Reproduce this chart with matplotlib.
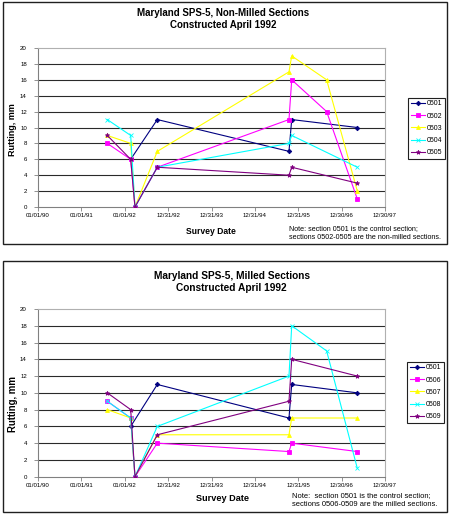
import numpy as np
import matplotlib
matplotlib.use("Agg")
import matplotlib.pyplot as plt
from matplotlib.patches import Rectangle

plt.rcParams['font.family'] = ['Liberation Sans', 'DejaVu Sans']

# ---------------- data ----------------
x_tick_dates = ['1990-01-01', '1991-01-01', '1992-01-01', '1992-12-31', '1993-12-31',
                '1994-12-31', '1995-12-31', '1996-12-30', '1997-12-30']
x_tick_labels = ['01/01/90', '01/01/91', '01/01/92', '12/31/92', '12/31/93',
                 '12/31/94', '12/31/95', '12/30/96', '12/30/97']
y_ticks = [0, 2, 4, 6, 8, 10, 12, 14, 16, 18, 20]

dates_control = ['1992-02-20', '1992-10-01', '1995-10-14', '1995-11-06', '1997-05-11']
dates_std = ['1991-08-07', '1992-02-20', '1992-03-27', '1992-10-01',
             '1995-10-14', '1995-11-06', '1997-05-11']
dates_ext = ['1991-08-07', '1992-02-20', '1992-03-27', '1992-10-01',
             '1995-10-14', '1995-11-06', '1996-08-26', '1997-05-11']

# Non-milled panel
nm_names = ['0501', '0502', '0503', '0504', '0505']
nm_dates = [dates_control, dates_ext, dates_ext, dates_std, dates_std]
rut_0501 = [6, 11, 7, 11, 10]
rut_0502 = [8, 6, 0, 5, 11, 16, 12, 1]
rut_0503 = [9, 8, 0, 7, 17, 19, 16, 2]
rut_0504 = [11, 9, 0, 5, 8, 9, 5]
rut_0505 = [9, 6, 0, 5, 4, 5, 3]
nm_values = [rut_0501, rut_0502, rut_0503, rut_0504, rut_0505]

# Milled panel
m_names = ['0501', '0506', '0507', '0508', '0509']
m_dates = [dates_control, dates_std, dates_std, dates_ext, dates_std]
rut_0506 = [9, 7, 0, 4, 3, 4, 3]
rut_0507 = [8, 7, 0, 5, 5, 7, 7]
rut_0508 = [9, 7, 0, 6, 12, 18, 15, 1]
rut_0509 = [10, 8, 0, 5, 9, 14, 12]
m_values = [rut_0501, rut_0506, rut_0507, rut_0508, rut_0509]

colors = ['#000080', '#FF00FF', '#FFFF00', '#00FFFF', '#800080']
markers = ['D', 's', '^', 'x', '*']
msizes = [2.3, 2.3, 2.8, 2.8, 3.2]

titles = [("Maryland SPS-5, Non-Milled Sections", "Constructed April 1992"),
          ("Maryland SPS-5, Milled Sections", "Constructed April 1992")]
notes = [("Note: section 0501 is the control section;",
          "sections 0502-0505 are the non-milled sections."),
         ("Note:  section 0501 is the control section;",
          "sections 0506-0509 are the milled sections.")]

# ---------------- layout (pixels) ----------------
W, H = 450, 515
fig = plt.figure(figsize=(W / 100, H / 100), dpi=100)
fig.patch.set_facecolor('white')


def fx(px):
    return px / W


def fy(py):
    return 1 - py / H


panels = [
    dict(box=(3, 2, 447, 244), ax=(38, 48, 385, 207), t1=13.3, t2=25.0, tx=223, tfs=7.0,
         ylab=(12.5, 130), yfs=6.5, xlab=(211, 232), xfs=6.2, note=(289, 228.3, 237.7), nfs=5.1,
         leg=(408, 97.7)),
    dict(box=(3, 261, 447, 512), ax=(38, 309, 385, 476.7), t1=275.7, t2=288.3, tx=231.5, tfs=7.3,
         ylab=(13.5, 404), yfs=6.9, xlab=(223, 498.5), xfs=6.6, note=(291.5, 495.5, 504.5), nfs=5.4,
         leg=(407, 361.7)),
]

all_names = [nm_names, m_names]
all_dates = [nm_dates, m_dates]
all_values = [nm_values, m_values]

xt = np.array(x_tick_dates, dtype='datetime64[D]')

for p, names, dsets, vsets, (l1, l2), (n1, n2) in zip(panels, all_names, all_dates, all_values, titles, notes):
    bx0, by0, bx1, by1 = p['box']
    fig.patches.append(Rectangle((fx(bx0), fy(by1)), fx(bx1 - bx0), (by1 - by0) / H,
                                 transform=fig.transFigure, fill=False,
                                 edgecolor='#202020', linewidth=1.0))
    ax0, ay0, ax1, ay1 = p['ax']
    ax = fig.add_axes([fx(ax0), fy(ay1), fx(ax1 - ax0), (ay1 - ay0) / H])
    ax.set_facecolor('white')
    for yv in y_ticks[1:-1]:
        ax.axhline(yv, color='#2a2a2a', linewidth=0.8, zorder=1)
    handles = []
    for name, d, v, c, mk, ms in zip(names, dsets, vsets, colors, markers, msizes):
        h, = ax.plot(np.array(d, dtype='datetime64[D]'), v, color=c, marker=mk,
                     markersize=ms, markeredgewidth=0.6, linewidth=0.8, label=name, zorder=3)
        handles.append(h)
    ax.set_xlim(xt[0], xt[-1])
    ax.set_ylim(0, 20)
    ax.set_xticks(xt)
    ax.set_xticklabels(x_tick_labels)
    ax.set_yticks(y_ticks)
    ax.set_yticklabels([str(v) for v in y_ticks])
    ax.tick_params(axis='x', length=3, width=0.6, color='#808080', pad=1.5, labelsize=4.4)
    ax.tick_params(axis='y', length=3, width=0.6, color='#808080', pad=5, labelsize=4.4)
    for s in ['top', 'right']:
        ax.spines[s].set_color('#b0b0b0')
        ax.spines[s].set_linewidth(0.8)
    for s in ['left', 'bottom']:
        ax.spines[s].set_color('#808080')
        ax.spines[s].set_linewidth(0.8)

    fig.text(fx(p['tx']), fy(p['t1']), l1, ha='center', va='center',
             fontsize=p['tfs'], fontweight='bold')
    fig.text(fx(p['tx']), fy(p['t2']), l2, ha='center', va='center',
             fontsize=p['tfs'], fontweight='bold')
    fig.text(fx(p['ylab'][0]), fy(p['ylab'][1]), 'Rutting, mm', rotation=90,
             ha='center', va='center', fontsize=p['yfs'], fontweight='bold')
    fig.text(fx(p['xlab'][0]), fy(p['xlab'][1]), 'Survey Date', ha='center', va='center',
             fontsize=p['xfs'], fontweight='bold')
    nx, ny1, ny2 = p['note']
    fig.text(fx(nx), fy(ny1), n1, ha='left', va='center', fontsize=p['nfs'])
    fig.text(fx(nx), fy(ny2), n2, ha='left', va='center', fontsize=p['nfs'])

    lx, ly = p['leg']
    leg = ax.legend(handles=handles, loc='upper left', bbox_to_anchor=(fx(lx), fy(ly)),
                    bbox_transform=fig.transFigure, fontsize=5, frameon=True,
                    fancybox=False, edgecolor='#202020', framealpha=1,
                    handlelength=2.0, handletextpad=0.3, borderpad=0.4,
                    labelspacing=0.75, borderaxespad=0)
    leg.get_frame().set_linewidth(0.8)

fig.savefig('out.png', dpi=100)
